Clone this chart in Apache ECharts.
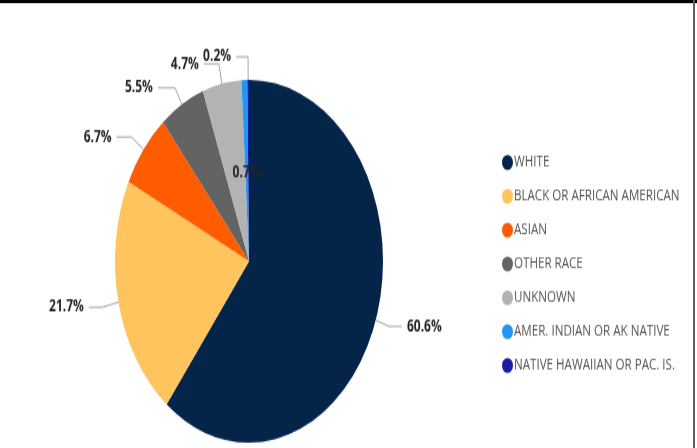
<!DOCTYPE html>
<html>
<head>
<meta charset="utf-8">
<script src="https://cdn.jsdelivr.net/npm/echarts@6/dist/echarts.min.js"></script>
<style>
  html, body { margin: 0; padding: 0; background: #fff; overflow: hidden; }
  #frame { position: relative; width: 697px; height: 448px; overflow: hidden; background: #fff; }
  #chart { position: absolute; left: 0; top: 0; width: 697px; height: 331px;
           transform: scaleY(1.3535); transform-origin: 0 0; }
  #topBar { position: absolute; left: 0; top: 0; width: 697px; height: 3px; background: #000;
            border-bottom: 1px solid #d0d0d0; }
  #rightEdge { position: absolute; left: 693px; top: 0; width: 2px; height: 448px; background: #5e5e5e; }
</style>
</head>
<body>
<div id="frame">
  <div id="chart"></div>
  <div id="topBar"></div>
  <div id="rightEdge"></div>
</div>
<script>
// Race breakdown (percent of total)
const categories = [
  'WHITE',
  'BLACK OR AFRICAN AMERICAN',
  'ASIAN',
  'OTHER RACE',
  'UNKNOWN',
  'AMER. INDIAN OR AK NATIVE',
  'NATIVE HAWAIIAN OR PAC. IS.'
];
const shares = [60.6, 21.7, 6.7, 5.5, 4.7, 0.7, 0.2];
const colors = ['#04244a', '#ffc45e', '#ff5b00', '#636363', '#b3b3b3', '#2196f3', '#1a1ea6'];

// leader line segments per slice: [radial length, horizontal length]
const leaderLengths = [[14, 13], [17, 13], [15, 15], [14, 17], [15, 15], [0, 0], [17, 12]];

const chart = echarts.init(document.getElementById('chart'), null, { renderer: 'canvas' });

const labelFont = '"Open Sans", "Noto Sans", sans-serif';

const data = categories.map((name, i) => {
  const item = {
    name: name,
    value: shares[i],
    itemStyle: { color: colors[i] },
    labelLine: { length: leaderLengths[i][0], length2: leaderLengths[i][1] }
  };
  if (name === 'AMER. INDIAN OR AK NATIVE') {
    // the thin sliver carries its value inside the pie
    item.label = { position: 'inside', offset: [0, 5] };
    item.labelLine = { show: false };
  }
  return item;
});

chart.setOption({
  animation: false,
  backgroundColor: '#ffffff',
  legend: {
    orient: 'vertical',
    left: 497,
    top: 109,
    itemGap: 13,
    itemWidth: 11,
    itemHeight: 11,
    icon: 'circle',
    selectedMode: false,
    textStyle: {
      color: '#585654', fontSize: 11.6, fontFamily: labelFont, lineHeight: 11,
      padding: [0, 0, 0, -4]
    },
    data: categories
  },
  series: [{
    type: 'pie',
    center: [249, 193],
    radius: 134,
    startAngle: 90,
    clockwise: true,
    avoidLabelOverlap: false,
    data: data,
    label: {
      show: true,
      formatter: p => p.value.toFixed(1) + '%',
      color: '#252423',
      fontSize: 12,
      fontWeight: 'bold',
      fontFamily: labelFont,
      distanceToLabelLine: 5
    },
    labelLine: {
      show: true,
      lineStyle: { color: '#a6a6a6', width: 1 }
    },
    emphasis: { disabled: true }
  }]
});
</script>
</body>
</html>
